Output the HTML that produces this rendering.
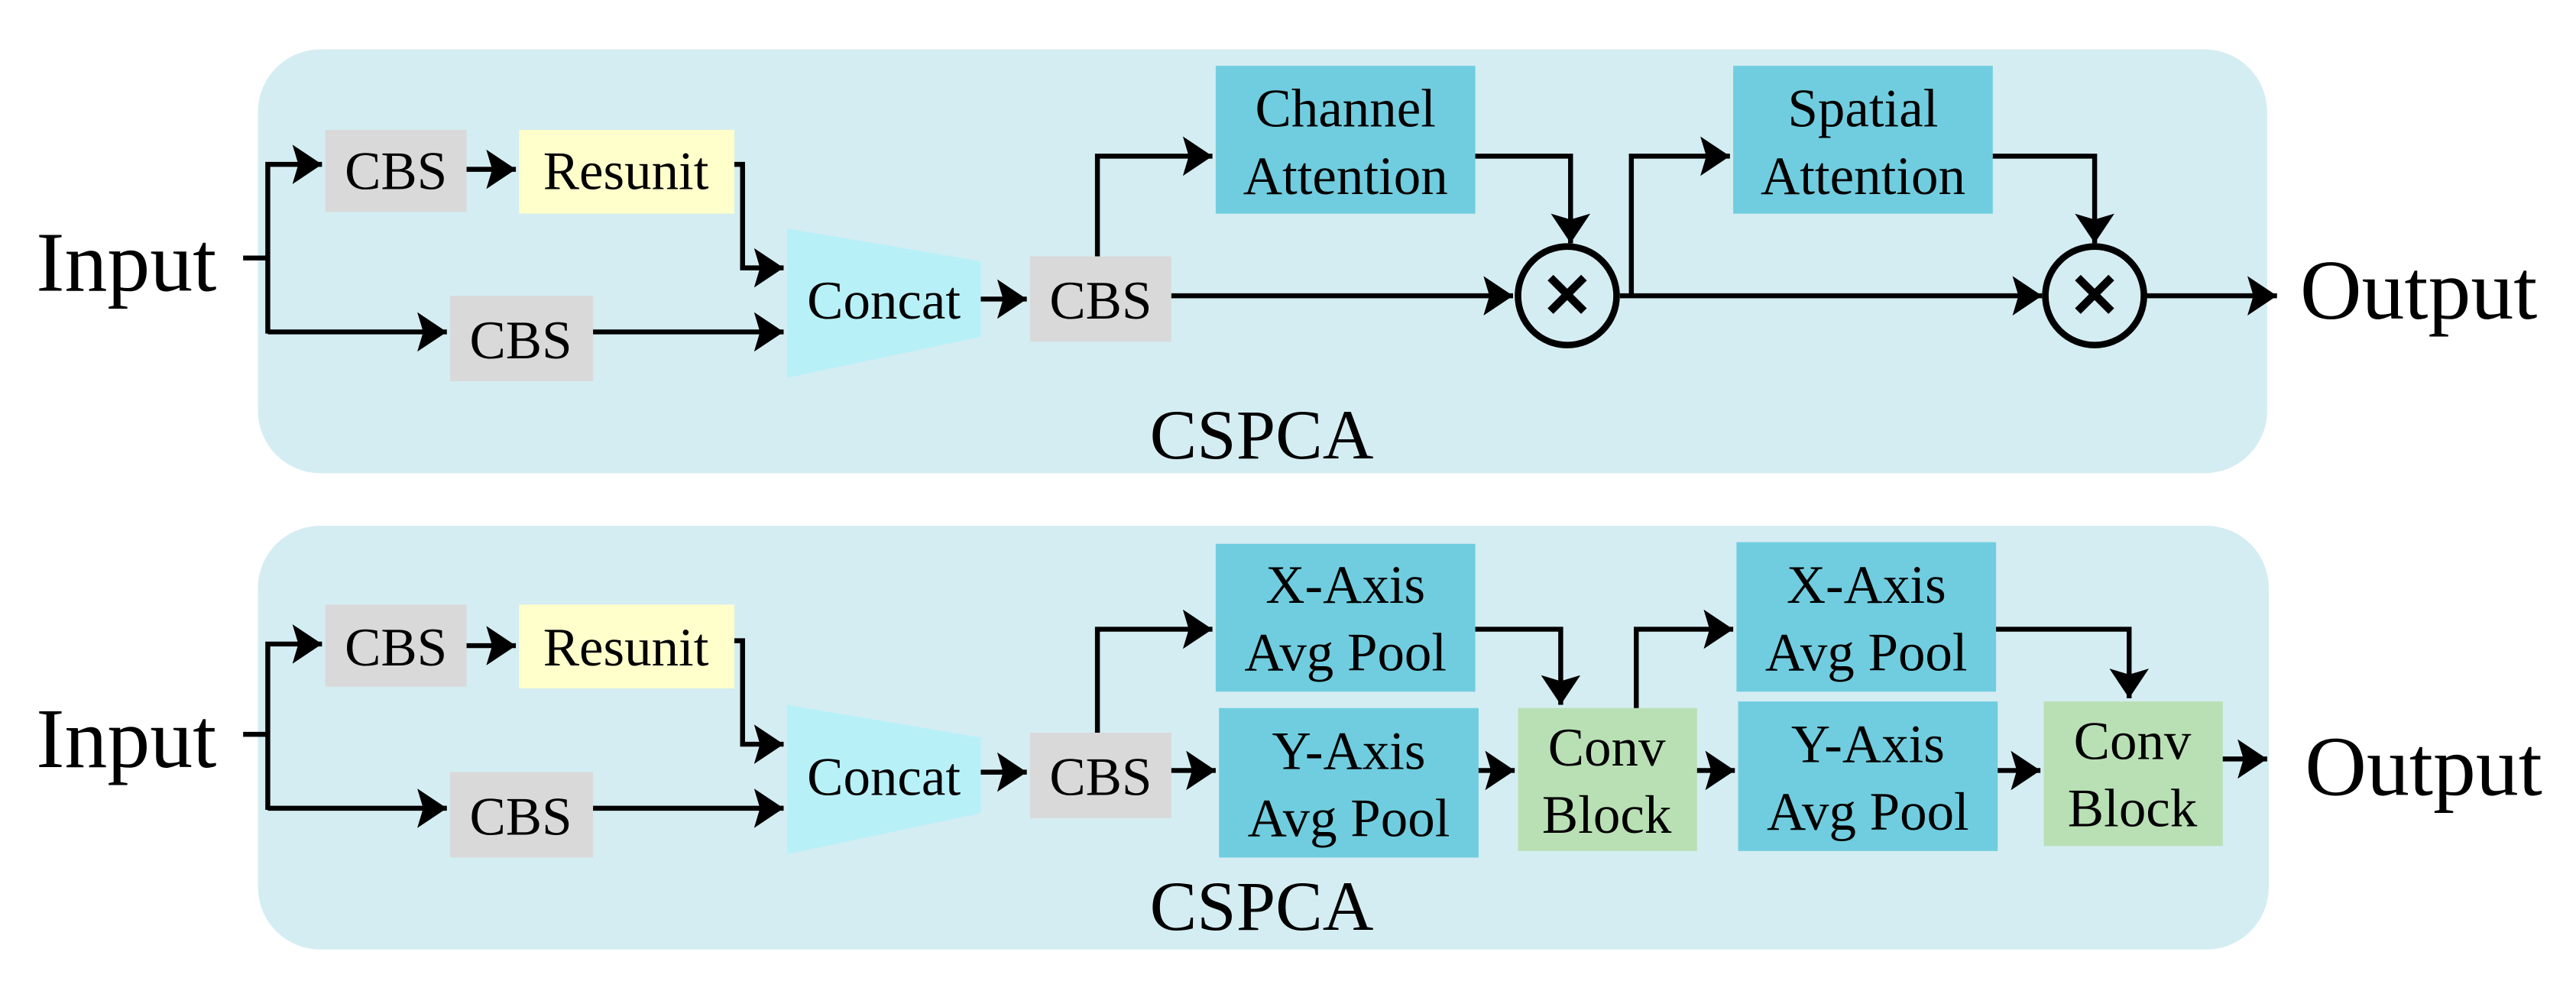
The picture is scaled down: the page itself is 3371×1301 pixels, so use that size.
<!DOCTYPE html>
<html><head><meta charset="utf-8"><style>
html,body{margin:0;padding:0;background:#fff;}
svg{display:block;}
text{font-family:"Liberation Serif",serif;fill:#000;}
</style></head><body>
<svg width="3371" height="1301" viewBox="0 0 1568 605" xmlns="http://www.w3.org/2000/svg">
<defs>
<marker id="a" markerWidth="7" markerHeight="8" refX="6" refY="4" orient="auto" markerUnits="strokeWidth">
<path d="M0,0 L6,4 L0,8 L1.2,4 z" fill="#000"/>
</marker>
</defs>
<rect x="157" y="30" width="1223" height="258" rx="38" ry="38" fill="#d4edf2"/>
<rect x="157" y="320" width="1224" height="258" rx="38" ry="38" fill="#d4edf2"/>

<!-- TOP PANEL -->
<g font-size="33" text-anchor="middle">
<rect x="198" y="79" width="86" height="50" fill="#d9d9d9"/><text x="241" y="115">CBS</text>
<rect x="316" y="79" width="131" height="51" fill="#ffffcc"/><text x="381" y="115">Resunit</text>
<rect x="274" y="180" width="87" height="52" fill="#d9d9d9"/><text x="317" y="218">CBS</text>
<polygon points="479,139 597,159 597,205 479,230" fill="#b8f0f8"/><text x="538" y="194">Concat</text>
<rect x="627" y="156" width="86" height="52" fill="#d9d9d9"/><text x="670" y="194">CBS</text>
<rect x="740" y="40" width="158" height="90" fill="#70cddf"/><text x="819" y="77">Channel</text><text x="819" y="118">Attention</text>
<rect x="1055" y="40" width="158" height="90" fill="#70cddf"/><text x="1134" y="77">Spatial</text><text x="1134" y="118">Attention</text>
</g>
<text x="22" y="177" font-size="52">Input</text>
<text x="1400" y="194" font-size="52">Output</text>
<text x="768" y="279" font-size="43" text-anchor="middle">CSPCA</text>
<g fill="none" stroke="#000" stroke-width="3">
<path d="M148,157 H163"/>
<path d="M163,203 V100 H196" marker-end="url(#a)"/>
<path d="M163,202 H272" marker-end="url(#a)"/>
<path d="M284,103 H314" marker-end="url(#a)"/>
<path d="M447,100 H452 V163 H477" marker-end="url(#a)"/>
<path d="M361,202 H477" marker-end="url(#a)"/>
<path d="M597,182 H625" marker-end="url(#a)"/>
<path d="M668,156 V95 H738" marker-end="url(#a)"/>
<path d="M713,180 H921" marker-end="url(#a)"/>
<path d="M898,95 H956 V148" marker-end="url(#a)"/>
<path d="M986,180 H1243" marker-end="url(#a)"/>
<path d="M993,180 V95 H1053" marker-end="url(#a)"/>
<path d="M1213,95 H1275 V148" marker-end="url(#a)"/>
<path d="M1306,180 H1386" marker-end="url(#a)"/>
<circle cx="954" cy="180" r="30" stroke-width="4"/>
<circle cx="1275" cy="180" r="30" stroke-width="4"/>
</g>
<text x="954" y="193" font-size="38" font-family="Liberation Sans" font-weight="bold" text-anchor="middle">✕</text>
<text x="1275" y="193" font-size="38" font-family="Liberation Sans" font-weight="bold" text-anchor="middle">✕</text>

<!-- BOTTOM PANEL -->
<g font-size="33" text-anchor="middle">
<rect x="198" y="368" width="86" height="50" fill="#d9d9d9"/><text x="241" y="405">CBS</text>
<rect x="316" y="368" width="131" height="51" fill="#ffffcc"/><text x="381" y="405">Resunit</text>
<rect x="274" y="470" width="87" height="52" fill="#d9d9d9"/><text x="317" y="508">CBS</text>
<polygon points="479,429 597,449 597,495 479,520" fill="#b8f0f8"/><text x="538" y="484">Concat</text>
<rect x="627" y="446" width="86" height="52" fill="#d9d9d9"/><text x="670" y="484">CBS</text>
<rect x="740" y="331" width="158" height="90" fill="#70cddf"/><text x="819" y="367">X-Axis</text><text x="819" y="408">Avg Pool</text>
<rect x="742" y="431" width="158" height="91" fill="#70cddf"/><text x="821" y="468">Y-Axis</text><text x="821" y="509">Avg Pool</text>
<rect x="924" y="431" width="109" height="87" fill="#b9e0b5"/><text x="978" y="466">Conv</text><text x="978" y="507">Block</text>
<rect x="1057" y="330" width="158" height="91" fill="#70cddf"/><text x="1136" y="367">X-Axis</text><text x="1136" y="408">Avg Pool</text>
<rect x="1058" y="427" width="158" height="91" fill="#70cddf"/><text x="1137" y="464">Y-Axis</text><text x="1137" y="505">Avg Pool</text>
<rect x="1244" y="427" width="109" height="88" fill="#b9e0b5"/><text x="1298" y="462">Conv</text><text x="1298" y="503">Block</text>
</g>
<text x="22" y="467" font-size="52">Input</text>
<text x="1403" y="484" font-size="52">Output</text>
<text x="768" y="566" font-size="43" text-anchor="middle">CSPCA</text>
<g fill="none" stroke="#000" stroke-width="3">
<path d="M148,447 H163"/>
<path d="M163,493 V392 H196" marker-end="url(#a)"/>
<path d="M163,492 H272" marker-end="url(#a)"/>
<path d="M284,393 H314" marker-end="url(#a)"/>
<path d="M447,390 H452 V453 H477" marker-end="url(#a)"/>
<path d="M361,492 H477" marker-end="url(#a)"/>
<path d="M597,470 H625" marker-end="url(#a)"/>
<path d="M668,446 V383 H738" marker-end="url(#a)"/>
<path d="M713,469 H740" marker-end="url(#a)"/>
<path d="M898,383 H950 V429" marker-end="url(#a)"/>
<path d="M900,469 H922" marker-end="url(#a)"/>
<path d="M1033,469 H1056" marker-end="url(#a)"/>
<path d="M996,431 V383 H1055" marker-end="url(#a)"/>
<path d="M1215,383 H1296 V425" marker-end="url(#a)"/>
<path d="M1216,469 H1242" marker-end="url(#a)"/>
<path d="M1353,462 H1380" marker-end="url(#a)"/>
</g>
</svg>
</body></html>
